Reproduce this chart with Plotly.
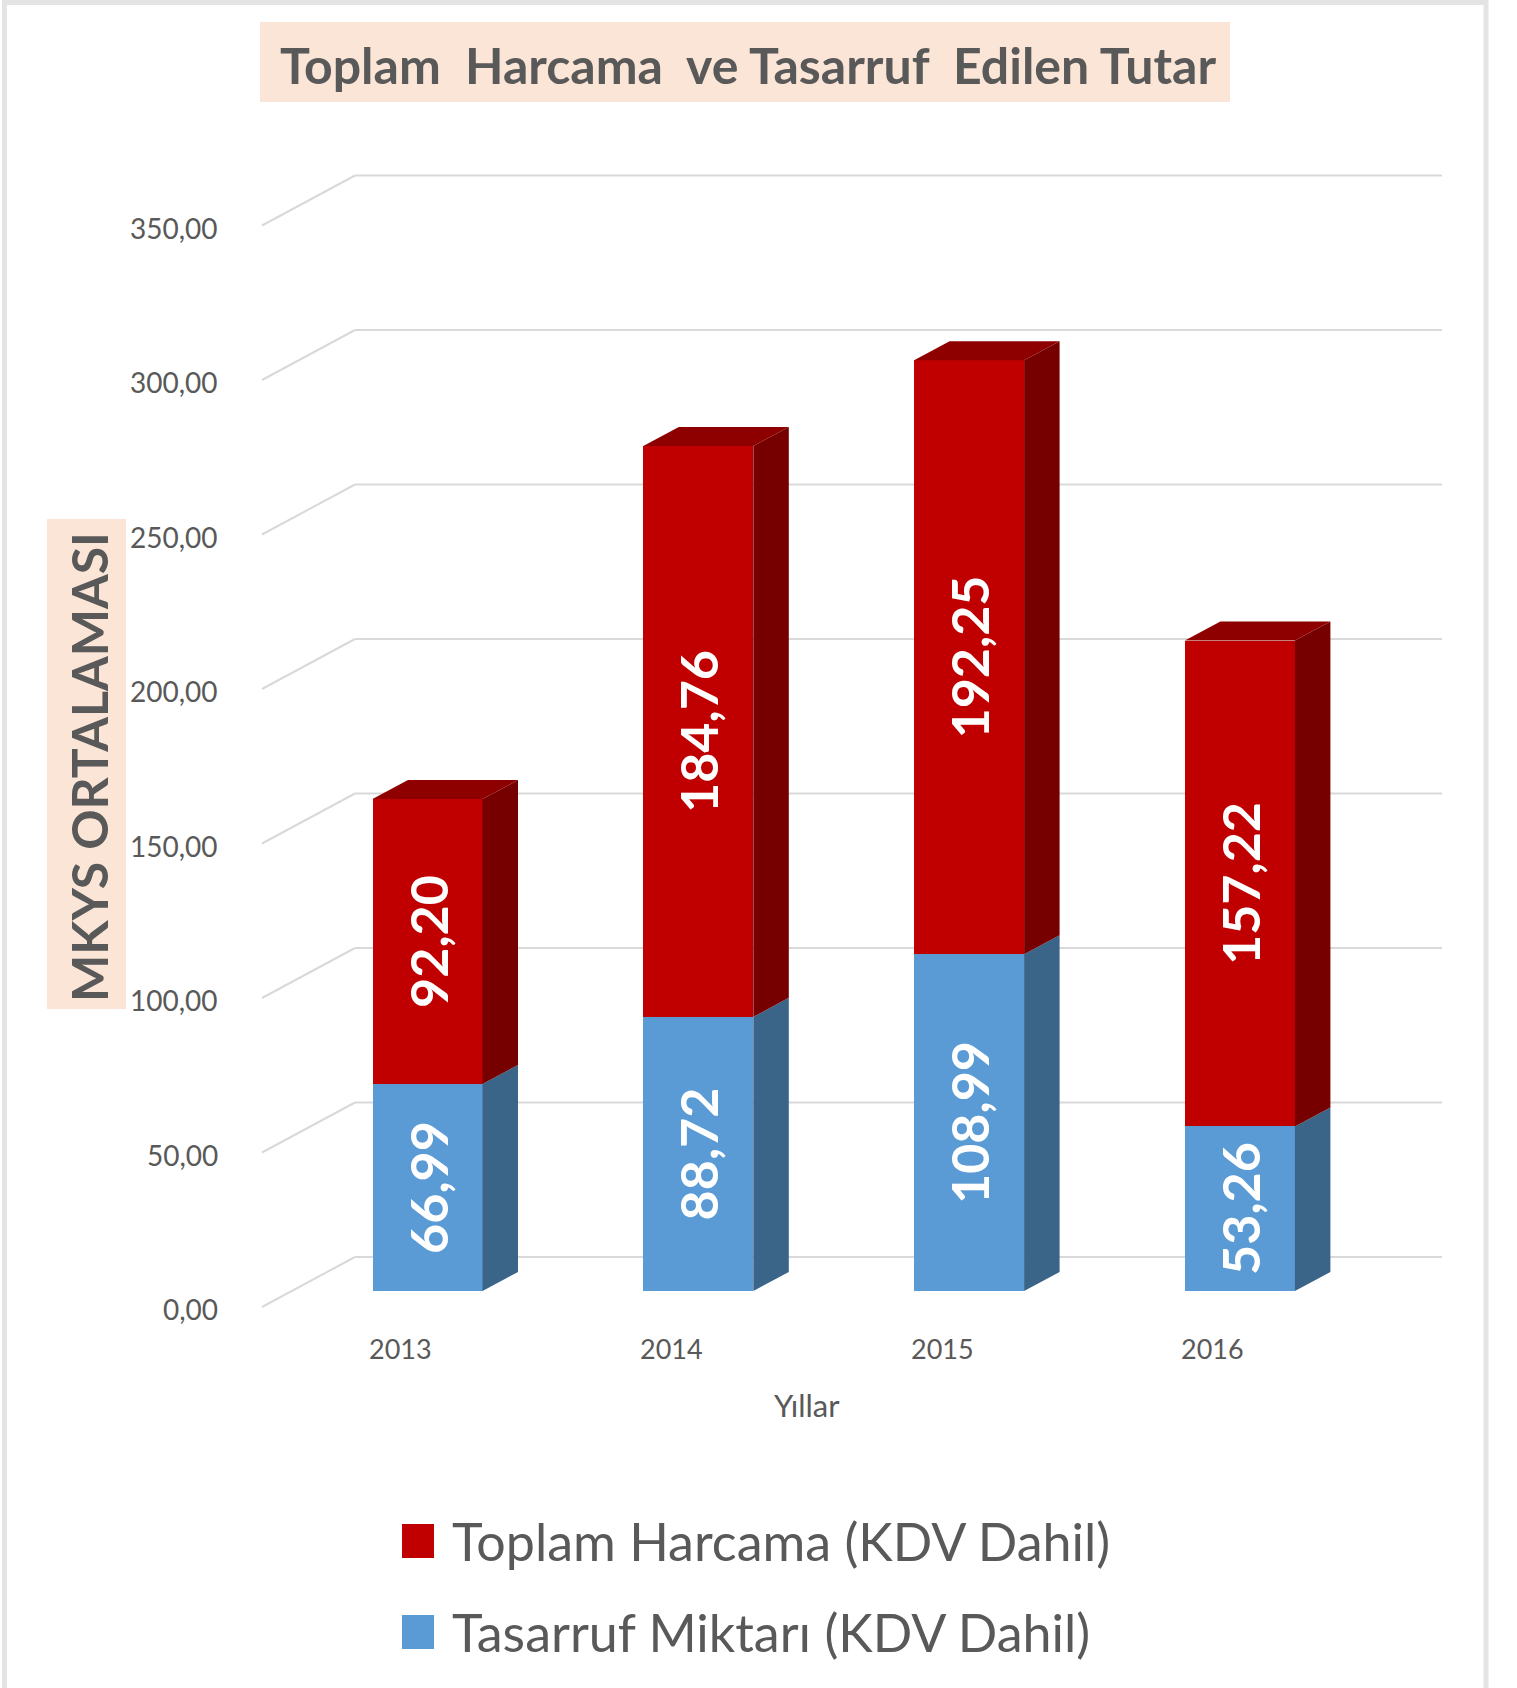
import plotly.graph_objects as go

# ---------------- data ----------------
years = ["2013", "2014", "2015", "2016"]
tasarruf = [66.99, 88.72, 108.99, 53.26]          # Tasarruf Miktarı (blue, bottom)
harcama = [92.20, 184.76, 192.25, 157.22]         # Toplam Harcama (red, top)
y_ticks = [0, 50, 100, 150, 200, 250, 300, 350]
y_tick_labels = ["0,00", "50,00", "100,00", "150,00", "200,00", "250,00", "300,00", "350,00"]
series_names = ["Toplam Harcama (KDV Dahil)", "Tasarruf Miktarı (KDV Dahil)"]
title_text = "Toplam \u00a0Harcama \u00a0ve Tasarruf \u00a0Edilen Tutar"
y_title = "MKYS ORTALAMASI"
x_title = "Yıllar"


def fmt(v):
    return f"{v:.2f}".replace(".", ",")


# ---------------- geometry / style ----------------
W, H = 1517, 1688
X0_PX, X_STEP = 427.5, 270.8      # pixel of category 0, pixels per category
Y0_PX, Y_STEP = 1291.0, 3.09      # pixel of value 0 (bar plane), pixels per unit
x_range = [(0 - X0_PX) / X_STEP, (W - X0_PX) / X_STEP]
y_range = [(Y0_PX - H) / Y_STEP, Y0_PX / Y_STEP]

BAR_W = 110 / X_STEP
DX = 35.5 / X_STEP                 # bar depth (x)
DY = 19 / Y_STEP                   # bar depth (y)
GRID_FRONT_X = (262 - X0_PX) / X_STEP
GRID_BACK_X = (355 - X0_PX) / X_STEP
GRID_RIGHT_X = (1442 - X0_PX) / X_STEP
GRID_FRONT_DY = (Y0_PX - 1307) / Y_STEP
GRID_BACK_DY = (Y0_PX - 1257) / Y_STEP

BLUE, BLUE_SIDE = "#5B9BD5", "#3A6488"
RED, RED_SIDE, RED_TOP = "#C00000", "#760000", "#8E0000"
GRID = "#D9D9D9"
TEXT = "#595959"
PEACH = "#FBE5D6"
FONT = "Lato"


def px(xp):
    return xp / W


def py(yp):
    return 1 - yp / H


fig = go.Figure()

# front faces (stacked bars)
fig.add_trace(go.Bar(
    x=list(range(len(years))), y=tasarruf, width=BAR_W, name=series_names[1],
    marker=dict(color=BLUE, line=dict(width=0)),
    text=[fmt(v) for v in tasarruf], textposition="inside", insidetextanchor="middle",
    textangle=-90, insidetextfont=dict(family=FONT, size=52, color="white", weight="bold"),
    showlegend=False, hoverinfo="skip",
))
fig.add_trace(go.Bar(
    x=list(range(len(years))), y=harcama, width=BAR_W, name=series_names[0],
    marker=dict(color=RED, line=dict(width=0)),
    text=[fmt(v) for v in harcama], textposition="inside", insidetextanchor="middle",
    textangle=-90, insidetextfont=dict(family=FONT, size=52, color="white", weight="bold"),
    showlegend=False, hoverinfo="skip",
))

# side and top faces (computed from data)
bx, by, rx, ry, tx, ty = [], [], [], [], [], []
for i, (b, t) in enumerate(zip(tasarruf, harcama)):
    xl, xr = i - BAR_W / 2, i + BAR_W / 2
    tot = b + t
    bx += [xr, xr + DX, xr + DX, xr, xr, None]
    by += [0, DY, b + DY, b, 0, None]
    rx += [xr, xr + DX, xr + DX, xr, xr, None]
    ry += [b, b + DY, tot + DY, tot, b, None]
    tx += [xl, xr, xr + DX, xl + DX, xl, None]
    ty += [tot, tot, tot + DY, tot + DY, tot, None]

for xs, ys, col in [(bx, by, BLUE_SIDE), (rx, ry, RED_SIDE), (tx, ty, RED_TOP)]:
    fig.add_trace(go.Scatter(x=xs, y=ys, mode="lines", fill="toself", fillcolor=col,
                             line=dict(width=0, color=col), showlegend=False, hoverinfo="skip"))

shapes = []
annotations = []

# gridlines (floor diagonal + back wall), below traces
for v, lab in zip(y_ticks, y_tick_labels):
    shapes.append(dict(type="line", xref="x", yref="y", layer="below",
                       x0=GRID_FRONT_X, y0=v + GRID_FRONT_DY, x1=GRID_BACK_X, y1=v + GRID_BACK_DY,
                       line=dict(color=GRID, width=2)))
    shapes.append(dict(type="line", xref="x", yref="y", layer="below",
                       x0=GRID_BACK_X, y0=v + GRID_BACK_DY, x1=GRID_RIGHT_X, y1=v + GRID_BACK_DY,
                       line=dict(color=GRID, width=2)))
    annotations.append(dict(x=GRID_FRONT_X, y=v + GRID_FRONT_DY, xref="x", yref="y",
                            text=lab, showarrow=False, xanchor="right", yanchor="middle",
                            xshift=-42, yshift=-2, font=dict(family=FONT, size=28, color=TEXT)))

# category labels
for i, yr in enumerate(years):
    annotations.append(dict(x=i, y=(Y0_PX - 1348) / Y_STEP, xref="x", yref="y", text=yr,
                            showarrow=False, xanchor="center", yanchor="middle", xshift=-27,
                            font=dict(family=FONT, size=27, color=TEXT)))

annotations.append(dict(x=(len(years) - 1) / 2, y=(Y0_PX - 1405) / Y_STEP, xref="x", yref="y",
                        text=x_title, showarrow=False, xanchor="center", yanchor="middle",
                        xshift=-27, font=dict(family=FONT, size=31, color=TEXT)))

# outer frame
shapes.append(dict(type="rect", xref="paper", yref="paper", layer="below",
                   x0=px(4.5), x1=px(1486), y0=py(1720), y1=py(2.5),
                   line=dict(color="#E4E4E4", width=5), fillcolor="rgba(0,0,0,0)"))

# title box + title
shapes.append(dict(type="rect", xref="paper", yref="paper", layer="below",
                   x0=px(260), x1=px(1230), y0=py(102), y1=py(22),
                   line=dict(width=0), fillcolor=PEACH))
annotations.append(dict(x=px(748), y=py(65), xref="paper", yref="paper", text=f"<b>{title_text}</b>",
                        showarrow=False, xanchor="center", yanchor="middle",
                        font=dict(family=FONT, size=50, color=TEXT)))

# y title box + text
shapes.append(dict(type="rect", xref="paper", yref="paper", layer="below",
                   x0=px(47), x1=px(126), y0=py(1009), y1=py(519),
                   line=dict(width=0), fillcolor=PEACH))
annotations.append(dict(x=px(89), y=py(767), xref="paper", yref="paper", text=f"<b>{y_title}</b>",
                        showarrow=False, xanchor="center", yanchor="middle", textangle=-90,
                        font=dict(family=FONT, size=50, color=TEXT)))

# legend (manual)
for (name, col, yc) in [(series_names[0], RED, 1541), (series_names[1], BLUE, 1632)]:
    shapes.append(dict(type="rect", xref="paper", yref="paper",
                       x0=px(402), x1=px(434), y0=py(yc + 17), y1=py(yc - 17),
                       line=dict(width=0), fillcolor=col))
    annotations.append(dict(x=px(450), y=py(yc), xref="paper", yref="paper", text=name,
                            showarrow=False, xanchor="left", yanchor="middle",
                            font=dict(family=FONT, size=52, color=TEXT)))

fig.update_layout(
    width=W, height=H, margin=dict(l=0, r=0, t=0, b=0),
    paper_bgcolor="white", plot_bgcolor="white",
    barmode="stack", bargap=0,
    xaxis=dict(range=x_range, visible=False, showgrid=False, zeroline=False, fixedrange=True),
    yaxis=dict(range=y_range, visible=False, showgrid=False, zeroline=False, fixedrange=True),
    shapes=shapes, annotations=annotations, showlegend=False,
    font=dict(family=FONT, color=TEXT),
)

fig.write_html("out.html", config={"displayModeBar": False},
               post_script="document.body.style.margin='0';document.body.style.overflow='hidden';")
